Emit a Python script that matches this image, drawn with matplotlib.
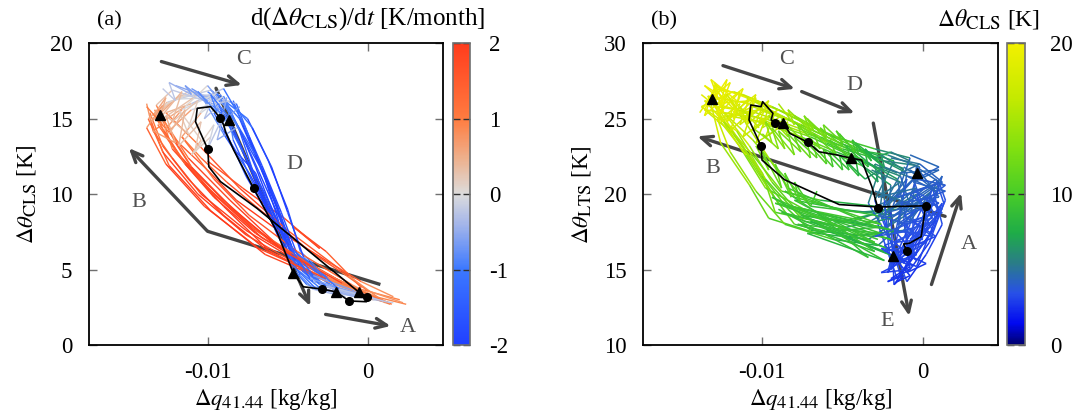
import numpy as np
import matplotlib
matplotlib.use("Agg")
import matplotlib.pyplot as plt
import matplotlib._mathtext as mathtext_impl
from matplotlib.collections import LineCollection
from matplotlib.colors import LinearSegmentedColormap, Normalize
from matplotlib.cm import ScalarMappable

plt.rcParams['font.family'] = ['Liberation Serif', 'DejaVu Serif']
plt.rcParams['mathtext.fontset'] = 'stix'
plt.rcParams['axes.unicode_minus'] = False
# gnuplot-style subscripts are a bit larger than the mathtext default
if hasattr(mathtext_impl, 'SHRINK_FACTOR'):
    mathtext_impl.SHRINK_FACTOR = 0.8

# ---- panel (a): dq vs d(theta_CLS), coloured by d(theta_CLS)/dt ----
# red strands (growing CLS), blue strands (decaying CLS), full cycles, jagged top
cls_dq = [
    [0.0024, 0.0005, -0.0030, -0.0062, -0.0090, -0.0112, -0.0128, -0.0136],
    [0.0020, -0.0008, -0.0040, -0.0070, -0.0096, -0.0114, -0.0126, -0.0133],
    [0.0016, -0.0004, -0.0026, -0.0056, -0.0082, -0.0100, -0.0118, -0.0130],
    [0.0010, -0.0018, -0.0048, -0.0076, -0.0104, -0.0122, -0.0134, -0.0138],
    [0.0022, 0.0000, -0.0016, -0.0036, -0.0054, -0.0070, -0.0088, -0.0104, -0.0116],
    [-0.0004, -0.0026, -0.0046, -0.0030, -0.0052, -0.0078, -0.0100],
    [-0.0100, -0.0086, -0.0078, -0.0070, -0.0062, -0.0054, -0.0046, -0.0032, -0.0012, 0.0010],
    [-0.0092, -0.0080, -0.0072, -0.0064, -0.0058, -0.0052, -0.0048, -0.0038, -0.0018, 0.0004],
    [-0.0110, -0.0094, -0.0084, -0.0076, -0.0068, -0.0060, -0.0052, -0.0040, -0.0020, 0.0002],
    [-0.0084, -0.0078, -0.0068, -0.0060, -0.0054, -0.0050, -0.0044, -0.0030, -0.0008, 0.0016],
    [-0.0120, -0.0104, -0.0090, -0.0080, -0.0072, -0.0064, -0.0056, -0.0046, -0.0026, -0.0004],
    [-0.0096, -0.0090, -0.0082, -0.0070, -0.0064, -0.0056, -0.0050, -0.0042, -0.0034, -0.0014],
    [0.0010, -0.0025, -0.0060, -0.0092, -0.0118, -0.0133, -0.0118, -0.0092, -0.0080, -0.0068, -0.0055, -0.0046, -0.0028, 0.0008],
    [0.0014, -0.0020, -0.0064, -0.0098, -0.0124, -0.0137, -0.0125, -0.0098, -0.0075, -0.0062, -0.0050, -0.0042, -0.0022, 0.0012],
    [0.0006, -0.0032, -0.0070, -0.0100, -0.0122, -0.0130, -0.0112, -0.0088, -0.0084, -0.0072, -0.0058, -0.0048, -0.0032, 0.0004],
    [0.0011, -0.0012, -0.0050, -0.0080, -0.0105, -0.0126, -0.0110, -0.0090, -0.0078, -0.0066, -0.0054, -0.0044, -0.0024, 0.0009],
    [0.0002, -0.0038, -0.0076, -0.0106, -0.0128, -0.0135, -0.0120, -0.0096, -0.0088, -0.0076, -0.0062, -0.0050, -0.0034, 0.0001],
    [0.0013, -0.0018, -0.0056, -0.0086, -0.0112, -0.0128, -0.0106, -0.0082, -0.0074, -0.0064, -0.0052, -0.0043, -0.0020, 0.0011],
    [0.0008, -0.0028, -0.0066, -0.0096, -0.0116, -0.0131, -0.0114, -0.0100, -0.0086, -0.0070, -0.0057, -0.0047, -0.0026, 0.0006],
    [0.0004, -0.0030, -0.0062, -0.0090, -0.0114, -0.0127, -0.0116, -0.0094, -0.0082, -0.0066, -0.0056, -0.0046, -0.0030, 0.0003],
    [0.0012, -0.0010, -0.0044, -0.0074, -0.0096, -0.0116, -0.0104, -0.0090, -0.0080, -0.0070, -0.0058, -0.0045, -0.0026, 0.0010],
    [0.0009, -0.0026, -0.0068, -0.0102, -0.0126, -0.0138, -0.0128, -0.0108, -0.0092, -0.0078, -0.0064, -0.0051, -0.0034, 0.0007],
    [0.0003, -0.0034, -0.0072, -0.0104, -0.0120, -0.0132, -0.0122, -0.0102, -0.0090, -0.0074, -0.0060, -0.0049, -0.0036, 0.0000],
    [0.0015, -0.0016, -0.0052, -0.0084, -0.0110, -0.0124, -0.0110, -0.0086, -0.0072, -0.0060, -0.0050, -0.0040, -0.0018, 0.0014],
    [-0.0134, -0.0126, -0.0130, -0.0116, -0.0122, -0.0106, -0.0112, -0.0096, -0.0102, -0.0088, -0.0092, -0.0080],
    [-0.0128, -0.0120, -0.0124, -0.0110, -0.0114, -0.0100, -0.0106, -0.0094, -0.0098, -0.0086],
    [-0.0138, -0.0128, -0.0134, -0.0120, -0.0126, -0.0112, -0.0118, -0.0104, -0.0110, -0.0098],
    [-0.0124, -0.0114, -0.0118, -0.0104, -0.0108, -0.0096, -0.0100, -0.0090, -0.0094, -0.0082],
]
cls_theta = [
    [2.7, 3.2, 4.6, 6.2, 8.6, 11.0, 13.2, 15.4],
    [3.0, 3.8, 5.4, 7.4, 9.8, 12.0, 13.8, 15.6],
    [3.2, 4.2, 5.6, 7.6, 9.6, 11.6, 13.4, 14.8],
    [2.9, 4.0, 5.8, 7.6, 10.0, 12.4, 14.2, 16.0],
    [2.8, 3.6, 4.8, 6.2, 7.8, 9.2, 10.8, 12.4, 13.8],
    [3.8, 6.2, 7.8, 6.4, 8.4, 10.4, 12.2],
    [16.8, 15.6, 13.8, 11.8, 9.6, 7.6, 5.8, 4.2, 3.3, 2.9],
    [16.4, 15.0, 13.0, 11.0, 9.0, 7.0, 5.2, 4.0, 3.4, 3.0],
    [17.0, 16.0, 14.4, 12.4, 10.4, 8.4, 6.4, 4.8, 3.6, 3.1],
    [16.2, 14.6, 12.2, 10.2, 8.2, 6.6, 5.0, 3.8, 3.2, 2.8],
    [17.2, 16.6, 15.2, 13.4, 11.4, 9.2, 7.2, 5.4, 3.9, 3.3],
    [15.4, 14.2, 12.8, 11.4, 9.8, 8.0, 6.2, 4.6, 3.7, 3.2],
    [2.9, 4.5, 6.8, 9.8, 12.6, 15.2, 16.5, 16.6, 14.3, 11.5, 8.4, 5.8, 3.9, 3.0],
    [2.7, 4.0, 6.0, 8.9, 11.9, 15.0, 16.1, 16.9, 15.0, 12.2, 9.0, 6.2, 4.1, 2.8],
    [3.1, 5.0, 7.6, 10.4, 13.0, 15.6, 16.8, 16.2, 13.6, 10.8, 8.0, 5.4, 3.7, 3.1],
    [2.8, 4.6, 7.6, 10.4, 13.2, 15.4, 16.0, 17.0, 14.8, 11.9, 8.8, 6.0, 4.0, 2.9],
    [3.2, 5.0, 7.3, 10.0, 12.8, 14.8, 16.3, 16.4, 14.0, 11.2, 8.6, 6.0, 4.2, 3.2],
    [2.8, 4.3, 6.6, 9.6, 12.4, 15.0, 16.6, 16.0, 13.8, 11.0, 7.8, 5.3, 3.8, 2.9],
    [3.0, 4.8, 7.1, 10.0, 12.4, 14.6, 15.8, 17.2, 15.4, 12.6, 9.4, 6.4, 4.3, 3.0],
    [3.1, 4.4, 6.3, 9.2, 12.0, 14.2, 15.6, 16.7, 14.6, 11.6, 9.0, 5.9, 4.0, 3.1],
    [2.8, 4.0, 6.2, 8.6, 11.0, 13.8, 15.4, 16.5, 14.2, 11.0, 8.2, 5.6, 3.9, 2.9],
    [2.9, 4.4, 6.4, 9.2, 12.0, 14.4, 15.9, 16.8, 15.6, 12.8, 10.0, 7.0, 4.6, 3.0],
    [3.0, 5.2, 7.8, 10.8, 13.4, 15.9, 16.9, 16.2, 14.0, 11.4, 8.6, 6.6, 4.4, 3.2],
    [2.7, 4.1, 6.2, 9.0, 11.8, 14.2, 15.6, 16.2, 14.4, 11.8, 8.8, 5.8, 3.7, 2.8],
    [15.2, 16.4, 15.0, 16.8, 14.8, 16.2, 14.4, 16.6, 15.0, 16.4, 14.6, 15.8],
    [17.0, 16.2, 17.4, 16.6, 17.2, 16.0, 16.8, 15.4, 16.6, 15.0],
    [15.8, 14.6, 14.2, 13.4, 15.2, 14.0, 15.6, 13.6, 12.6, 13.8],
    [14.0, 15.6, 13.2, 14.8, 12.8, 14.6, 13.0, 15.2, 13.6, 14.4],
]
cls_rate = [
    [0.6, 1.2, 1.8, 2.0, 2.0, 1.9, 1.4, 0.8],
    [0.5, 1.4, 1.9, 2.0, 2.0, 1.8, 1.2, 0.7],
    [0.4, 1.2, 1.7, 2.0, 2.0, 1.7, 1.3, 0.8],
    [0.5, 1.6, 2.0, 2.0, 1.9, 1.6, 1.0, 0.5],
    [0.5, 1.0, 1.4, 1.8, 1.9, 1.8, 1.6, 1.2, 0.8],
    [1.0, 1.8, 1.9, 1.6, 1.9, 1.8, 1.5],
    [-0.6, -1.3, -1.8, -2.0, -2.0, -1.9, -1.6, -0.9, -0.4, -0.1],
    [-0.8, -1.5, -1.9, -2.0, -2.0, -1.8, -1.4, -0.8, -0.3, 0.0],
    [-0.4, -1.0, -1.6, -1.9, -2.0, -2.0, -1.7, -1.0, -0.5, -0.1],
    [-1.0, -1.7, -2.0, -2.0, -2.0, -1.7, -1.3, -0.7, -0.3, 0.0],
    [-0.3, -0.8, -1.4, -1.8, -2.0, -2.0, -1.8, -1.4, -0.6, -0.2],
    [-1.2, -1.6, -1.9, -2.0, -1.9, -1.8, -1.6, -1.0, -0.6, -0.2],
    [0.2, 1.5, 1.9, 2.0, 1.6, 0.6, 0.1, -0.5, -1.4, -1.9, -2.0, -1.7, -0.8, -0.1],
    [0.3, 1.6, 2.0, 2.0, 1.8, 0.8, 0.3, -0.6, -1.6, -2.0, -1.9, -1.5, -0.6, 0.0],
    [0.1, 1.4, 1.8, 1.9, 1.5, 0.5, 0.0, -0.4, -1.3, -1.8, -2.0, -1.6, -0.7, -0.2],
    [0.4, 1.3, 1.8, 1.8, 1.4, 0.7, 0.2, -0.7, -1.5, -1.9, -1.9, -1.6, -0.7, 0.0],
    [0.2, 1.5, 2.0, 2.0, 1.7, 0.9, 0.2, -0.3, -1.2, -1.8, -1.9, -1.7, -0.9, -0.2],
    [0.3, 1.6, 1.9, 2.0, 1.6, 0.6, 0.0, -0.8, -1.7, -2.0, -2.0, -1.5, -0.5, 0.1],
    [0.2, 1.7, 2.0, 1.9, 1.6, 0.8, 0.3, -0.2, -1.0, -1.7, -2.0, -1.7, -0.8, -0.1],
    [0.1, 1.6, 2.0, 2.0, 1.7, 1.0, 0.4, -0.5, -1.4, -1.9, -1.9, -1.6, -0.8, -0.2],
    [0.3, 1.2, 1.6, 1.7, 1.5, 0.9, 0.4, -0.5, -1.3, -1.8, -2.0, -1.6, -0.7, 0.0],
    [0.2, 1.6, 2.0, 2.0, 1.8, 1.0, 0.4, -0.2, -0.9, -1.6, -1.9, -1.8, -1.0, -0.2],
    [0.2, 1.3, 1.7, 1.8, 1.4, 0.5, 0.0, -0.4, -1.2, -1.8, -2.0, -1.8, -1.0, -0.2],
    [0.4, 1.8, 2.0, 2.0, 1.8, 1.0, 0.3, -0.6, -1.6, -2.0, -2.0, -1.6, -0.6, 0.1],
    [0.8, 0.4, 0.6, 0.2, 0.5, 0.0, 0.3, -0.3, -0.1, -0.6, -0.4, -0.9],
    [-0.3, -0.1, -0.4, -0.5, -0.7, -0.6, -0.9, -0.8, -1.0, -1.2],
    [0.9, 1.1, 0.8, 0.6, 0.4, 0.3, 0.1, 0.2, 0.5, -0.2],
    [0.6, 0.3, 0.5, 0.1, 0.4, -0.2, 0.0, -0.5, -0.3, -0.8],
]

# mean cycle and month markers, panel (a)
mean_a_dq = [-0.00054, -0.00691, -0.00919, -0.00992, -0.00998, -0.01075, -0.01064, -0.00981, -0.00919, -0.00900,
             -0.00888, -0.00837, -0.00712, -0.00567, -0.00464, -0.00402, -0.00288, -0.00199, -0.00116, -0.00008,
             -0.00004, -0.00054]
mean_a_theta = [3.49, 9.06, 10.83, 11.82, 12.97, 14.80, 15.69, 15.80, 15.03, 14.60,
                14.14, 12.93, 10.39, 7.51, 4.75, 3.86, 3.71, 3.53, 2.92, 2.87,
                3.20, 3.49]
circ_a_dq = [-0.00998, -0.00919, -0.00712, -0.00288, -0.00116, -0.00004]
circ_a_theta = [12.97, 15.03, 10.39, 3.71, 2.92, 3.20]
tri_a_dq = [-0.01296, -0.00868, -0.00464, -0.00199, -0.00054]
tri_a_theta = [15.25, 14.92, 4.75, 3.53, 3.49]

# ---- panel (b): dq vs d(theta_LTS), coloured by d(theta_CLS) ----
# cycles, lower green jumps, yellow/green/blue scribbles
lts_dq = [
    [-0.0014, -0.0004, 0.0008, 0.0002, -0.0024, -0.0062, -0.0090, -0.0104, -0.0122, -0.0134, -0.0108, -0.0082, -0.0056, -0.0032, -0.0012, -0.0026, -0.0014],
    [-0.0020, -0.0010, 0.0004, 0.0010, -0.0030, -0.0070, -0.0084, -0.0100, -0.0116, -0.0128, -0.0104, -0.0078, -0.0050, -0.0024, -0.0004, -0.0008, -0.0020],
    [-0.0010, 0.0002, 0.0012, 0.0006, -0.0018, -0.0052, -0.0080, -0.0096, -0.0112, -0.0130, -0.0112, -0.0090, -0.0064, -0.0040, -0.0018, -0.0030, -0.0010],
    [-0.0016, -0.0008, 0.0000, -0.0006, -0.0026, -0.0058, -0.0092, -0.0100, -0.0118, -0.0136, -0.0114, -0.0086, -0.0062, -0.0038, -0.0020, -0.0022, -0.0016],
    [-0.0008, 0.0004, 0.0013, 0.0008, -0.0010, -0.0044, -0.0076, -0.0094, -0.0108, -0.0124, -0.0098, -0.0072, -0.0046, -0.0022, -0.0002, -0.0012, -0.0008],
    [-0.0018, -0.0006, 0.0006, -0.0002, -0.0034, -0.0066, -0.0096, -0.0108, -0.0126, -0.0132, -0.0106, -0.0080, -0.0058, -0.0030, -0.0008, -0.0020, -0.0018],
    [-0.0012, -0.0002, 0.0010, 0.0004, -0.0020, -0.0048, -0.0074, -0.0098, -0.0116, -0.0138, -0.0118, -0.0094, -0.0068, -0.0044, -0.0026, -0.0034, -0.0012],
    [-0.0022, -0.0012, -0.0002, 0.0004, -0.0028, -0.0056, -0.0086, -0.0104, -0.0120, -0.0128, -0.0102, -0.0076, -0.0052, -0.0028, -0.0010, -0.0016, -0.0022],
    [-0.0006, 0.0006, 0.0014, 0.0010, -0.0016, -0.0040, -0.0070, -0.0090, -0.0106, -0.0122, -0.0100, -0.0076, -0.0054, -0.0034, -0.0014, -0.0006, -0.0006],
    [-0.0016, -0.0004, 0.0002, -0.0004, -0.0036, -0.0074, -0.0098, -0.0112, -0.0128, -0.0130, -0.0110, -0.0088, -0.0064, -0.0042, -0.0024, -0.0028, -0.0016],
    [-0.0010, 0.0000, 0.0008, 0.0012, -0.0012, -0.0046, -0.0080, -0.0094, -0.0110, -0.0126, -0.0106, -0.0084, -0.0060, -0.0036, -0.0016, -0.0010, -0.0010],
    [-0.0020, -0.0008, 0.0002, 0.0006, -0.0030, -0.0064, -0.0088, -0.0106, -0.0124, -0.0136, -0.0116, -0.0092, -0.0070, -0.0046, -0.0026, -0.0024, -0.0020],
    [-0.0024, -0.0088, -0.0020, -0.0082, -0.0018, -0.0076, -0.0022, -0.0070, -0.0016, -0.0060],
    [-0.0028, -0.0092, -0.0026, -0.0086, -0.0030, -0.0078, -0.0026, -0.0066, -0.0034, -0.0090],
    [-0.0020, -0.0080, -0.0030, -0.0094, -0.0024, -0.0072, -0.0028, -0.0084],
    [-0.0136, -0.0128, -0.0134, -0.0120, -0.0126, -0.0112, -0.0118, -0.0104, -0.0110, -0.0096, -0.0102, -0.0090],
    [-0.0138, -0.0124, -0.0132, -0.0116, -0.0122, -0.0108, -0.0114, -0.0100, -0.0106, -0.0092, -0.0098, -0.0084],
    [-0.0130, -0.0136, -0.0122, -0.0128, -0.0114, -0.0120, -0.0106, -0.0112, -0.0098, -0.0104, -0.0092],
    [-0.0132, -0.0122, -0.0128, -0.0114, -0.0118, -0.0104, -0.0110, -0.0096, -0.0100, -0.0088],
    [-0.0139, -0.0130, -0.0136, -0.0124, -0.0130, -0.0116, -0.0122, -0.0110, -0.0114, -0.0102],
    [-0.0096, -0.0084, -0.0088, -0.0074, -0.0078, -0.0064, -0.0068, -0.0054, -0.0058, -0.0044, -0.0048, -0.0034, -0.0036, -0.0022],
    [-0.0100, -0.0090, -0.0094, -0.0080, -0.0084, -0.0070, -0.0072, -0.0060, -0.0062, -0.0050, -0.0052, -0.0040, -0.0042, -0.0028, -0.0030, -0.0016],
    [-0.0104, -0.0096, -0.0100, -0.0088, -0.0092, -0.0082, -0.0086, -0.0076, -0.0080, -0.0070, -0.0066],
    [-0.0090, -0.0080, -0.0084, -0.0070, -0.0074, -0.0060, -0.0064, -0.0050, -0.0052, -0.0040, -0.0042, -0.0030, -0.0020, -0.0008],
    [-0.0106, -0.0094, -0.0098, -0.0086, -0.0090, -0.0076, -0.0080, -0.0066, -0.0068, -0.0056, -0.0058, -0.0046, -0.0048, -0.0036, -0.0024, -0.0010],
    [-0.0080, -0.0068, -0.0072, -0.0060, -0.0062, -0.0050, -0.0054, -0.0042, -0.0044, -0.0032, -0.0036, -0.0024, -0.0026, -0.0012],
    [-0.0020, -0.0008, -0.0026, -0.0004, -0.0018, 0.0006, -0.0012, 0.0010, -0.0006, 0.0012, -0.0016, -0.0002, -0.0024, -0.0010, -0.0018],
    [-0.0012, 0.0000, -0.0008, 0.0008, -0.0010, 0.0013, -0.0004, 0.0010, -0.0016, 0.0004, -0.0008, 0.0012, -0.0002],
    [-0.0028, -0.0010, -0.0030, -0.0006, -0.0024, 0.0002, -0.0020, -0.0004, -0.0026, -0.0008, -0.0022, -0.0012, -0.0018],
    [-0.0032, -0.0014, -0.0028, -0.0004, -0.0022, 0.0006, -0.0016, 0.0012, -0.0008, 0.0004, -0.0024, -0.0006],
    [-0.0020, -0.0002, -0.0014, 0.0010, -0.0006, 0.0014, -0.0002, 0.0006, -0.0012, 0.0000, -0.0018, -0.0004],
    [-0.0030, -0.0014, -0.0026, -0.0004, -0.0018, 0.0008, -0.0010, 0.0012, -0.0004, -0.0020, -0.0008, -0.0016],
    [-0.0008, 0.0010, -0.0004, 0.0014, 0.0002, 0.0012, -0.0006, 0.0008, -0.0014, 0.0002, -0.0010],
]
lts_theta = [
    [14.6, 16.6, 18.4, 19.8, 17.8, 18.4, 19.4, 21.8, 24.6, 26.5, 26.0, 24.9, 23.6, 22.5, 21.7, 19.0, 14.6],
    [15.2, 17.0, 19.0, 20.6, 17.2, 17.6, 19.0, 21.2, 23.8, 25.8, 25.4, 24.4, 23.0, 22.2, 21.9, 18.0, 15.2],
    [14.2, 16.0, 18.0, 20.4, 18.6, 19.0, 19.8, 22.4, 25.0, 27.0, 26.6, 25.6, 24.2, 23.0, 22.2, 19.6, 14.2],
    [15.6, 17.4, 19.2, 21.0, 18.8, 18.0, 18.8, 21.4, 24.0, 25.6, 25.2, 24.2, 23.0, 21.9, 20.6, 17.6, 15.6],
    [15.0, 16.8, 19.4, 21.0, 19.4, 18.2, 18.6, 20.8, 23.2, 25.4, 25.0, 24.0, 23.0, 22.6, 21.8, 18.4, 15.0],
    [14.0, 15.8, 17.6, 19.2, 17.0, 17.4, 18.4, 20.6, 23.4, 26.0, 26.2, 25.2, 23.9, 23.0, 22.4, 18.8, 14.0],
    [15.4, 17.2, 18.8, 20.0, 18.4, 17.8, 18.2, 21.0, 24.2, 25.8, 26.8, 25.8, 24.4, 23.4, 22.0, 19.4, 15.4],
    [14.8, 16.2, 18.0, 19.6, 16.6, 17.0, 18.0, 20.2, 22.8, 25.0, 25.6, 24.6, 23.4, 22.4, 21.4, 17.2, 14.8],
    [15.8, 17.6, 19.6, 20.8, 19.0, 18.8, 19.2, 21.6, 23.6, 25.2, 24.8, 23.8, 22.8, 22.0, 21.2, 18.6, 15.8],
    [14.4, 16.2, 18.2, 20.0, 18.0, 19.0, 20.4, 22.8, 25.4, 27.2, 26.4, 25.2, 23.8, 22.8, 21.2, 18.0, 14.4],
    [16.0, 17.8, 19.8, 21.2, 17.6, 17.2, 18.0, 20.0, 22.6, 24.8, 25.8, 25.0, 23.4, 22.2, 21.0, 18.2, 16.0],
    [15.0, 16.4, 18.6, 20.6, 19.2, 19.6, 20.2, 22.6, 24.8, 26.2, 25.6, 24.6, 23.8, 22.6, 21.6, 19.6, 15.0],
    [16.2, 18.8, 17.0, 19.2, 17.6, 18.6, 16.4, 18.2, 15.8, 17.6],
    [17.0, 19.4, 18.0, 20.2, 16.2, 18.0, 17.4, 18.8, 15.8, 19.0],
    [18.4, 19.6, 16.8, 19.8, 15.6, 17.4, 17.8, 20.4],
    [25.6, 27.2, 26.2, 27.4, 25.8, 27.0, 25.4, 26.6, 25.0, 26.2, 24.8, 25.6],
    [26.6, 25.4, 27.6, 26.2, 24.8, 26.4, 24.6, 25.8, 24.2, 25.4, 23.8, 24.8],
    [27.0, 25.2, 26.6, 24.8, 26.0, 24.2, 25.6, 23.8, 25.0, 23.4, 24.2],
    [26.0, 27.6, 25.2, 26.8, 25.0, 26.4, 24.6, 25.8, 24.4, 25.2],
    [25.4, 26.8, 27.2, 26.0, 27.4, 25.6, 26.6, 24.8, 25.8, 24.4],
    [25.2, 23.8, 25.0, 23.4, 24.6, 23.0, 24.0, 22.6, 23.6, 22.2, 23.2, 21.8, 22.8, 21.6],
    [24.0, 23.0, 24.4, 22.6, 24.0, 22.4, 23.4, 22.0, 23.0, 21.6, 22.6, 21.2, 22.4, 20.8, 22.0, 21.4],
    [23.2, 21.6, 22.8, 20.4, 22.0, 19.8, 21.4, 19.4, 20.8, 19.2, 20.2],
    [26.0, 24.6, 25.6, 24.2, 25.2, 23.6, 24.4, 23.2, 24.0, 22.6, 23.4, 22.4, 22.8, 22.2],
    [24.4, 23.4, 24.8, 23.0, 24.2, 22.8, 23.8, 22.4, 23.2, 21.8, 22.8, 21.6, 22.2, 21.0, 21.8, 21.2],
    [25.2, 24.2, 25.0, 23.8, 24.6, 23.4, 24.2, 22.8, 23.6, 22.2, 23.0, 21.8, 22.6, 21.6],
    [14.4, 15.2, 16.4, 16.0, 17.6, 17.2, 18.6, 19.4, 20.2, 20.8, 19.8, 21.4, 19.2, 21.0, 17.0],
    [21.8, 21.0, 21.6, 20.2, 21.2, 20.6, 21.8, 19.8, 19.4, 19.0, 20.0, 20.8, 22.0],
    [18.6, 18.0, 17.2, 17.6, 16.2, 16.8, 15.4, 16.0, 14.8, 15.0, 14.2, 14.6, 14.0],
    [21.6, 20.8, 19.8, 20.4, 18.8, 19.6, 18.0, 18.8, 17.0, 17.8, 16.6, 15.2],
    [22.4, 22.0, 21.4, 21.6, 20.8, 20.2, 19.6, 18.4, 18.0, 17.0, 16.8, 15.6],
    [20.2, 19.6, 18.4, 19.0, 17.4, 18.2, 16.4, 19.4, 15.2, 16.0, 14.6, 14.2],
    [22.6, 21.8, 21.0, 20.6, 19.6, 19.0, 18.2, 17.2, 16.2, 15.4, 14.8],
]
lts_cls = [
    [2.6, 3.0, 3.4, 3.8, 5.5, 9.0, 11.0, 13.0, 16.5, 19.0, 17.5, 14.0, 11.0, 8.0, 5.5, 4.2, 2.6],
    [2.8, 3.0, 3.6, 3.9, 6.0, 9.5, 10.5, 12.5, 16.0, 18.5, 17.0, 13.5, 10.5, 7.0, 4.8, 3.8, 2.8],
    [2.4, 2.8, 3.2, 3.6, 5.0, 8.5, 11.0, 13.5, 17.0, 19.5, 18.0, 15.0, 12.0, 9.0, 6.0, 4.5, 2.4],
    [3.0, 3.2, 3.5, 4.0, 6.0, 9.0, 11.5, 13.0, 16.0, 18.5, 17.0, 13.5, 11.0, 8.0, 5.5, 4.0, 3.0],
    [2.6, 3.0, 3.4, 3.7, 4.8, 8.0, 10.5, 12.0, 15.5, 18.0, 16.5, 13.0, 10.0, 6.5, 4.2, 3.4, 2.6],
    [2.4, 2.8, 3.2, 3.6, 6.5, 9.5, 11.0, 12.5, 16.0, 19.0, 18.0, 14.5, 11.5, 7.5, 4.8, 3.8, 2.4],
    [2.8, 3.0, 3.4, 3.8, 5.2, 8.0, 10.0, 12.5, 16.5, 18.5, 18.5, 15.0, 12.5, 9.5, 6.5, 4.6, 2.8],
    [2.6, 2.9, 3.3, 3.7, 6.0, 9.0, 11.0, 12.5, 15.5, 18.0, 17.0, 13.5, 10.5, 7.5, 5.0, 3.6, 2.6],
    [3.0, 3.2, 3.5, 3.8, 5.0, 7.5, 10.0, 12.0, 15.0, 17.5, 16.0, 12.5, 10.0, 7.0, 5.0, 3.8, 3.0],
    [2.5, 2.9, 3.3, 3.8, 6.5, 10.0, 12.0, 14.0, 17.5, 20.0, 18.0, 14.5, 11.5, 8.5, 6.0, 4.2, 2.5],
    [3.0, 3.2, 3.6, 3.9, 5.0, 8.0, 10.5, 12.0, 15.0, 17.5, 17.5, 14.0, 11.0, 8.0, 5.2, 3.8, 3.0],
    [2.7, 3.0, 3.4, 3.8, 6.0, 9.5, 11.5, 13.5, 17.0, 19.0, 17.5, 14.0, 11.5, 8.5, 6.0, 4.4, 2.7],
    [7.0, 10.5, 7.5, 10.5, 7.0, 10.0, 7.5, 9.5, 6.5, 9.0],
    [7.5, 11.0, 8.0, 11.5, 7.0, 10.5, 7.5, 10.5, 7.0, 11.0],
    [7.0, 10.5, 7.5, 11.5, 6.5, 10.0, 7.5, 11.0],
    [18.5, 20.0, 19.0, 20.0, 18.5, 19.5, 18.0, 19.0, 17.5, 18.0, 17.0, 17.0],
    [19.5, 18.0, 20.0, 19.0, 17.5, 18.5, 17.0, 17.5, 16.5, 17.0, 15.5, 16.0],
    [20.0, 18.0, 19.5, 17.5, 18.5, 16.5, 18.0, 16.0, 17.0, 15.5, 15.5],
    [19.0, 20.0, 18.5, 19.0, 18.0, 18.5, 17.0, 17.0, 16.0, 16.0],
    [18.0, 19.5, 20.0, 19.0, 19.5, 18.0, 18.5, 17.0, 17.0, 16.0],
    [15.0, 13.5, 14.0, 12.5, 13.0, 11.5, 12.0, 10.5, 11.0, 9.5, 9.5, 8.0, 8.0, 6.5],
    [14.0, 13.0, 13.5, 12.0, 12.5, 11.0, 11.5, 10.0, 10.5, 9.0, 9.0, 8.0, 8.0, 6.5, 6.5, 5.0],
    [13.0, 12.0, 12.5, 11.0, 11.5, 10.5, 11.0, 10.0, 10.5, 9.5, 9.5],
    [15.5, 14.5, 14.5, 13.0, 13.0, 12.0, 12.0, 10.5, 10.5, 9.0, 9.0, 7.5, 6.0, 4.8],
    [14.5, 13.5, 14.0, 12.5, 13.0, 11.5, 12.0, 10.5, 11.0, 9.5, 9.5, 8.5, 8.5, 7.0, 5.8, 4.6],
    [14.0, 13.0, 13.0, 12.0, 12.0, 11.0, 11.0, 9.5, 9.5, 8.0, 8.0, 6.5, 6.5, 5.0],
    [2.5, 2.8, 3.2, 3.0, 3.5, 3.4, 3.8, 3.6, 4.0, 3.8, 4.2, 4.0, 4.8, 4.2, 3.4],
    [5.0, 4.5, 4.8, 4.0, 4.6, 4.0, 4.8, 3.8, 4.2, 3.8, 4.0, 3.9, 4.6],
    [4.5, 3.6, 4.2, 3.4, 3.8, 3.2, 3.4, 3.0, 3.2, 2.8, 2.8, 2.6, 2.5],
    [6.5, 5.0, 5.5, 4.2, 4.8, 3.8, 4.2, 3.6, 3.4, 3.4, 3.6, 2.8],
    [5.5, 4.8, 5.0, 4.2, 4.6, 3.9, 4.0, 3.6, 3.8, 3.2, 3.4, 2.9],
    [5.5, 4.5, 4.5, 3.8, 3.8, 3.4, 3.2, 3.6, 2.8, 3.0, 2.6, 2.5],
    [4.8, 4.2, 4.2, 3.8, 3.8, 3.6, 3.4, 3.2, 3.0, 2.8, 2.6],
]

mean_b_dq = [-0.00100, -0.00120, -0.00085, -0.00011, 0.00017, -0.00280, -0.00521, -0.00862, -0.01002, -0.01008,
             -0.01083, -0.01072, -0.01008, -0.00998, -0.00934, -0.00945, -0.00924, -0.00871, -0.00828, -0.00718,
             -0.00648, -0.00531, -0.00446, -0.00382, -0.00318, -0.00280]
mean_b_theta = [16.23, 16.70, 16.74, 17.18, 19.23, 19.15, 19.31, 20.96, 22.26, 23.19,
                24.92, 25.91, 25.80, 26.13, 25.36, 24.92, 24.74, 24.70, 24.03, 23.44,
                22.81, 22.59, 22.38, 22.26, 20.49, 19.06]
circ_b_dq = [-0.00100, 0.00017, -0.00280, -0.01008, -0.00924, -0.00718]
circ_b_theta = [16.23, 19.23, 19.06, 23.19, 24.74, 23.44]
tri_b_dq = [-0.01316, -0.00871, -0.00446, -0.00038, -0.00185]
tri_b_theta = [26.29, 24.70, 22.38, 21.42, 15.90]

# colour palettes
rate_cmap = LinearSegmentedColormap.from_list('rate', [
    (0.00, '#2040ff'), (0.25, '#3c78ff'), (0.40, '#a4b6ea'), (0.50, '#dcdcdc'),
    (0.62, '#eeb08c'), (0.75, '#ff7c40'), (1.00, '#ff3c1c')])
cls_cmap = LinearSegmentedColormap.from_list('cls', [
    (0.00, '#00006e'), (0.07, '#0008f0'), (0.17, '#2850e8'), (0.27, '#2a7c88'),
    (0.37, '#1eac48'), (0.50, '#48cc28'), (0.65, '#80e010'), (0.82, '#c4ea00'), (1.00, '#f2f000')])
rate_norm = Normalize(-2, 2)
cls_norm = Normalize(0, 20)

ARROW = '#454545'
TICK_FS = 16.5
LABEL_FS = 16.5


def add_loops(ax, xs, ys, vs, cmap, norm, lw=1.0):
    for x, y, v in zip(xs, ys, vs):
        pts = np.column_stack([x, y])
        segs = np.stack([pts[:-1], pts[1:]], axis=1)
        v = np.asarray(v)
        lc = LineCollection(segs, cmap=cmap, norm=norm, linewidths=lw, zorder=2)
        lc.set_array((v[:-1] + v[1:]) / 2)
        ax.add_collection(lc)


def arrow(ax, start, end):
    ax.annotate('', xy=end, xytext=start, zorder=1,
                arrowprops=dict(arrowstyle='->,head_length=0.8,head_width=0.35',
                                color=ARROW, lw=2.4, shrinkA=0, shrinkB=0))


def style_axes(ax):
    ax.tick_params(direction='in', length=6, width=1, color='#707070',
                   top=True, right=True, labelsize=TICK_FS, pad=12)
    for s in ax.spines.values():
        s.set_linewidth(1.3)


def add_colorbar(fig, rect, cmap, norm, ticks, pad):
    cax = fig.add_axes(rect)
    cb = fig.colorbar(ScalarMappable(norm=norm, cmap=cmap), cax=cax, ticks=ticks)
    cb.outline.set_edgecolor('#707070')
    cb.outline.set_linewidth(1.2)
    cax.tick_params(direction='in', length=5, width=1, color='#303030',
                    left=True, right=True, labelsize=TICK_FS, pad=pad)
    return cb


fig = plt.figure(figsize=(10.73, 4.12), dpi=100)

# ---------------- panel (a) ----------------
ax1 = fig.add_axes([0.0829, 0.1626, 0.3300, 0.7323])
add_loops(ax1, cls_dq, cls_theta, cls_rate, rate_cmap, rate_norm, lw=1.0)
ax1.plot(mean_a_dq, mean_a_theta, color='black', lw=1.2, zorder=4)
ax1.plot(circ_a_dq, circ_a_theta, 'o', color='black', ms=5.5, zorder=5)
ax1.plot(tri_a_dq, tri_a_theta, '^', color='black', ms=7.5, zorder=5)

arrow(ax1, (-0.01288, 18.79), (-0.00786, 17.24))          # C
arrow(ax1, (-0.00947, 17.02), (-0.00359, 2.58))           # D
ax1.plot([0.00079, -0.0100], [4.01, 7.54], color=ARROW, lw=2.4, zorder=1, solid_capstyle='butt')
arrow(ax1, (-0.0100, 7.54), (-0.01491, 13.05))            # B
arrow(ax1, (-0.00263, 2.03), (0.00143, 1.26))             # A
for lab, x, y in [('A', 0.0025, 1.15), ('B', -0.01427, 9.42), ('C', -0.00776, 18.9), ('D', -0.00455, 11.95)]:
    ax1.text(x, y, lab, fontsize=16, color='#505050', ha='center', va='center')

ax1.set_xlim(-0.0174, 0.0047)
ax1.set_ylim(0, 20)
ax1.set_xticks([-0.01, 0])
ax1.set_xticklabels(['-0.01', '0'])
ax1.set_yticks([0, 5, 10, 15, 20])
style_axes(ax1)
ax1.set_xlabel(r'$\Delta q_{41.44}$ [kg/kg]', fontsize=LABEL_FS, labelpad=3)
ax1.set_ylabel(r'$\Delta\theta_{\rm CLS}$ [K]', fontsize=LABEL_FS, labelpad=8)
fig.text(0.090, 0.950, '(a)', fontsize=16, va='center')
add_colorbar(fig, [0.4222, 0.1626, 0.0158, 0.7323], rate_cmap, rate_norm, [-2, -1, 0, 1, 2], 14)
fig.text(0.452, 0.955, r'd($\Delta\theta_{\rm CLS}$)/d$t$ [K/month]', fontsize=18, ha='right', va='center')

# ---------------- panel (b) ----------------
ax2 = fig.add_axes([0.5997, 0.1626, 0.3308, 0.7323])
add_loops(ax2, lts_dq, lts_theta, lts_cls, cls_cmap, cls_norm, lw=1.1)
ax2.plot(mean_b_dq, mean_b_theta, color='black', lw=1.2, zorder=4)
ax2.plot(circ_b_dq, circ_b_theta, 'o', color='black', ms=5.5, zorder=5)
ax2.plot(tri_b_dq, tri_b_theta, '^', color='black', ms=7.5, zorder=5)

arrow(ax2, (-0.01245, 28.52), (-0.00798, 26.98))          # C
arrow(ax2, (-0.00755, 26.80), (-0.00426, 25.37))          # D
arrow(ax2, (0.00138, 18.53), (-0.01404, 23.83))           # B
arrow(ax2, (-0.00309, 24.71), (-0.00085, 11.92))          # E
arrow(ax2, (0.00053, 14.01), (0.00238, 20.08))            # A
for lab, x, y in [('A', 0.00283, 16.66), ('B', -0.01309, 21.73), ('C', -0.00851, 28.9),
                  ('D', -0.00426, 27.18), ('E', -0.00223, 11.59)]:
    ax2.text(x, y, lab, fontsize=16, color='#505050', ha='center', va='center')

ax2.set_xlim(-0.0174, 0.0047)
ax2.set_ylim(10, 30)
ax2.set_xticks([-0.01, 0])
ax2.set_xticklabels(['-0.01', '0'])
ax2.set_yticks([10, 15, 20, 25, 30])
style_axes(ax2)
ax2.set_xlabel(r'$\Delta q_{41.44}$ [kg/kg]', fontsize=LABEL_FS, labelpad=3)
ax2.set_ylabel(r'$\Delta\theta_{\rm LTS}$ [K]', fontsize=LABEL_FS, labelpad=8)
fig.text(0.607, 0.950, '(b)', fontsize=16, va='center')
add_colorbar(fig, [0.9385, 0.1626, 0.0168, 0.7323], cls_cmap, cls_norm, [0, 10, 20], 18)
fig.text(0.969, 0.955, r'$\Delta\theta_{\rm CLS}$ [K]', fontsize=17, ha='right', va='center')

fig.savefig('out.png', dpi=100)
